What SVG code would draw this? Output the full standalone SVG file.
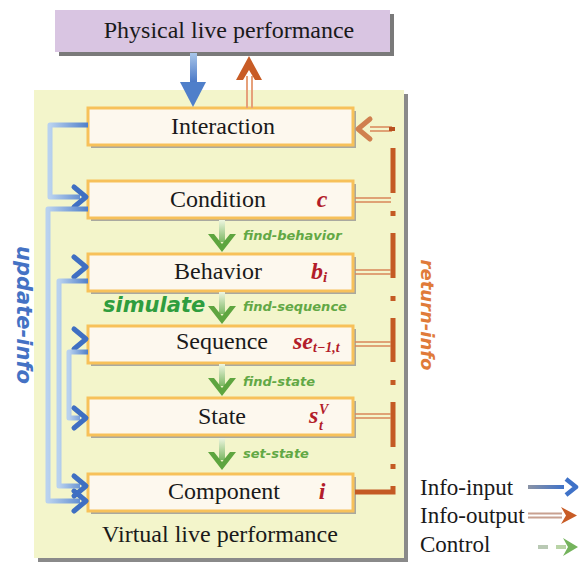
<svg xmlns="http://www.w3.org/2000/svg" width="579" height="564" viewBox="0 0 579 564">
<defs>
<style>
.node rect.b{fill:#fdf8ee;stroke:#f7c15a;stroke-width:3}
.node rect.s{fill:#a9a9a0}
.lbl{font-family:"Liberation Serif",serif;font-size:24px;fill:#1a1a1a;text-anchor:middle}
.var{font-family:"Liberation Serif",serif;font-weight:bold;font-style:italic;fill:#b31d2a}
.ctl{font-family:"DejaVu Sans",sans-serif;font-weight:bold;font-style:italic;font-size:13px;fill:#62a845}
.leg{font-family:"Liberation Serif",serif;font-size:23px;fill:#1a1a1a}
.blue{fill:none;stroke:url(#gBlue);stroke-width:5;stroke-linejoin:round}
.bhead{fill:none;stroke:#3f6fc2;stroke-width:5;stroke-linecap:round;stroke-linejoin:round}
.ored{fill:none;stroke:#c45a24;stroke-width:5}
.dbl{fill:none;stroke:#d9875a;stroke-width:1.6}
.ghead{fill:#5ea53f}
</style>
<linearGradient id="gBlue" x1="0" y1="0" x2="1" y2="0">
<stop offset="0" stop-color="#b9d2ef"/><stop offset="1" stop-color="#4f7fca"/>
</linearGradient>
<linearGradient id="gBlueV" x1="0" y1="0" x2="0" y2="1">
<stop offset="0" stop-color="#a9c6ea"/><stop offset="1" stop-color="#3f6fc2"/>
</linearGradient>
<linearGradient id="gGreen" x1="0" y1="0" x2="0" y2="1">
<stop offset="0" stop-color="#eef5e0"/><stop offset="1" stop-color="#7cb862"/>
</linearGradient>
<linearGradient id="gLegB" x1="0" y1="0" x2="1" y2="0">
<stop offset="0" stop-color="#8a93a6"/><stop offset="1" stop-color="#3f72c8"/>
</linearGradient>
<g id="gArrow">
<rect x="-3" y="0" width="6" height="22" fill="url(#gGreen)"/>
<polygon points="-14,14 0,32 14,14 8,14 0,24 -8,14" class="ghead"/>
</g>
<path id="bh" d="M-12,-10 L0,0 L-12,10" class="bhead"/>
</defs>

<rect width="579" height="564" fill="#ffffff"/>

<!-- Physical -->
<g id="physical">
<rect x="59" y="14" width="335" height="42" fill="#7a7a7a"/>
<rect x="55" y="10" width="335" height="42" fill="#d9c5e2"/>
<text x="229" y="38" class="lbl">Physical live performance</text>
</g>

<!-- Virtual panel -->
<g id="virtual">
<rect x="38" y="94" width="370" height="468" fill="#8a8a8a"/>
<rect x="34" y="90" width="370" height="468" fill="#f3f5cb"/>
<text x="220" y="542" class="lbl">Virtual live performance</text>
</g>

<g id="interaction" class="node">
<rect class="s" x="91" y="111" width="265" height="37"/>
<rect class="b" x="88" y="108" width="265" height="37"/>
<text x="223" y="134" class="lbl">Interaction</text>
</g>
<g id="condition" class="node">
<rect class="s" x="91" y="184" width="265" height="37"/>
<rect class="b" x="88" y="181" width="265" height="37"/>
<text x="218" y="207" class="lbl">Condition</text>
<text x="322" y="207" class="var" font-size="24" text-anchor="middle">c</text>
</g>
<g id="behavior" class="node">
<rect class="s" x="91" y="257" width="265" height="37"/>
<rect class="b" x="88" y="254" width="265" height="37"/>
<text x="218" y="279" class="lbl">Behavior</text>
<text x="311" y="279" class="var" font-size="24">b<tspan font-size="15" dy="3">i</tspan></text>
</g>
<g id="sequence" class="node">
<rect class="s" x="91" y="329" width="265" height="37"/>
<rect class="b" x="88" y="326" width="265" height="37"/>
<text x="222" y="349" class="lbl">Sequence</text>
<text x="293" y="349" class="var" font-size="24">se<tspan font-size="14" dy="3">t−1,t</tspan></text>
</g>
<g id="state" class="node">
<rect class="s" x="91" y="401" width="265" height="37"/>
<rect class="b" x="88" y="398" width="265" height="37"/>
<text x="222" y="424" class="lbl">State</text>
<text x="309" y="423" class="var" font-size="24">s</text>
<text x="319" y="430" class="var" font-size="14">t</text>
<text x="319" y="414" class="var" font-size="14">V</text>
</g>
<g id="component" class="node">
<rect class="s" x="91" y="477" width="265" height="37"/>
<rect class="b" x="88" y="474" width="265" height="37"/>
<text x="224" y="499" class="lbl">Component</text>
<text x="322" y="499" class="var" font-size="24" text-anchor="middle">i</text>
</g>

<!-- Labels -->
<text x="103" y="312" font-family="DejaVu Sans,sans-serif" font-weight="bold" font-style="italic" font-size="21" fill="#2f9d3e">simulate</text>
<text x="243" y="240" class="ctl">find-behavior</text>
<text x="243" y="311" class="ctl">find-sequence</text>
<text x="243" y="386" class="ctl">find-state</text>
<text x="243" y="458" class="ctl">set-state</text>
<text x="17" y="315" transform="rotate(90 17 315)" text-anchor="middle" font-family="DejaVu Sans,sans-serif" font-weight="bold" font-style="italic" font-size="21" fill="#4472c4">update-info</text>
<text x="421" y="315" transform="rotate(90 421 315)" text-anchor="middle" font-family="DejaVu Sans,sans-serif" font-weight="bold" font-style="italic" font-size="18" fill="#e07b39">return-info</text>

<g id="connectors">
<!-- top -->
<rect x="190" y="53" width="7" height="33" fill="url(#gBlueV)"/>
<polygon points="180,82 193,107 206,82" fill="#4f7fca"/>
<rect x="246" y="76" width="2" height="32" fill="#e6a07a"/>
<rect x="251" y="76" width="2" height="32" fill="#e6a07a"/>
<polygon points="236,80 249,56 262,80 255,80 249,70 243,80" fill="#c85c26"/>

<!-- control arrows -->
<use href="#gArrow" x="222" y="220"/>
<use href="#gArrow" x="222" y="292"/>
<use href="#gArrow" x="222" y="364"/>
<use href="#gArrow" x="222" y="438"/>

<!-- update-info blue -->
<path class="blue" d="M88,125 H50 V197 H80"/>
<use href="#bh" x="86" y="197"/>
<path class="blue" d="M88,209 H48 V501 H80"/>
<path class="blue" d="M48,267 H80"/>
<use href="#bh" x="86" y="267"/>
<use href="#bh" x="86" y="501"/>
<path class="blue" d="M88,281 H59 V486 H80"/>
<path class="blue" d="M59,339 H80"/>
<use href="#bh" x="86" y="339"/>
<use href="#bh" x="86" y="486"/>
<path class="blue" d="M88,352 H69 V418 H80"/>
<use href="#bh" x="86" y="418"/>

<!-- return-info orange -->
<path d="M370,127 H392 M370,131 H392" class="dbl"/>
<path d="M389,129 H395" stroke="#b8501e" stroke-width="4"/>
<path d="M370,119 L358,129 L370,139" fill="none" stroke="#d0804f" stroke-width="5" stroke-linecap="round" stroke-linejoin="round"/>
<path class="ored" d="M393,148 V193 M393,211 V216 M393,233 V278 M393,296 V301 M393,318 V362 M393,380 V385 M393,402 V447 M393,464 V469"/>
<path class="dbl" d="M355,198 H391 M355,202 H391 M355,270 H391 M355,274 H391 M355,342 H391 M355,346 H391 M355,414 H391 M355,418 H391"/>
<path d="M355,492 H393 V486" fill="none" stroke="#c45a24" stroke-width="5"/>

<!-- legend -->
<rect x="528" y="485" width="36" height="4" fill="url(#gLegB)"/>
<path d="M566,479 L576,487 L566,495" fill="none" stroke="#3f72c8" stroke-width="4.5" stroke-linejoin="round"/>
<path d="M528,513.5 H562 M528,517.5 H562" stroke="#c8a090" stroke-width="2"/>
<polygon points="561,507 577,515.5 561,524 566,515.5" fill="#c85c26"/>
<rect x="538" y="545" width="10" height="4" fill="#b9c9b4"/>
<rect x="556" y="545" width="10" height="4" fill="#b9d4a6"/>
<polygon points="563,538 578,547 563,556 568,547" fill="#74b35c"/>
</g>

<g id="legend-text">
<text x="420" y="495" class="leg">Info-input</text>
<text x="420" y="523" class="leg">Info-output</text>
<text x="420" y="552" class="leg">Control</text>
</g>
</svg>
